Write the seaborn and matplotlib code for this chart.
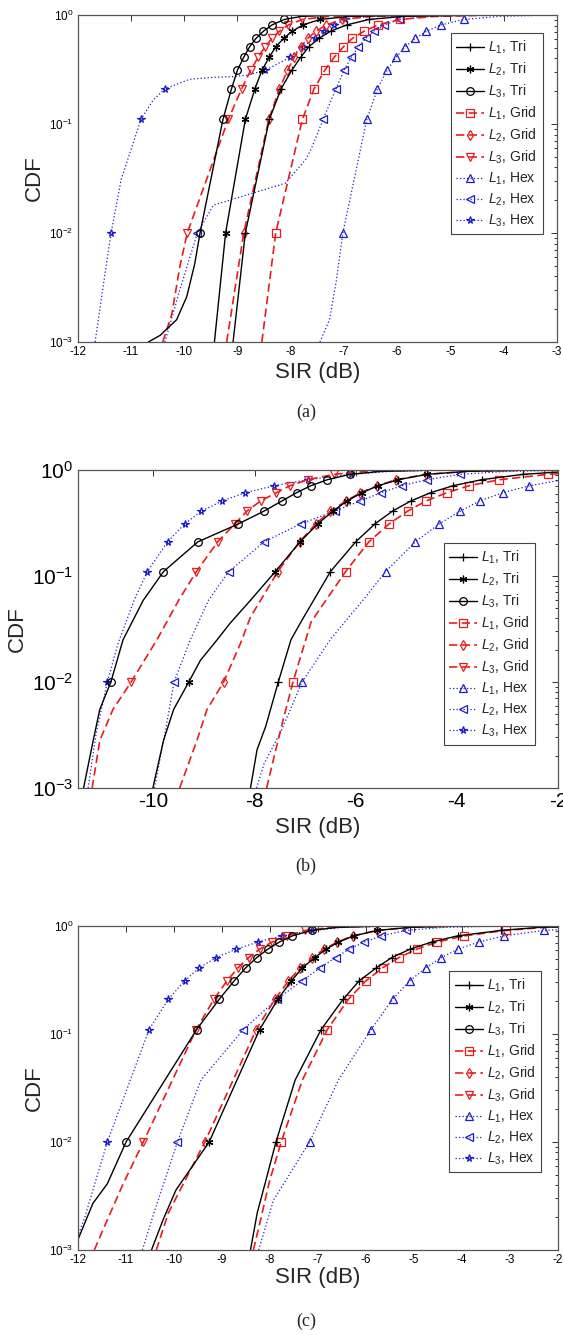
import numpy as np
import pandas as pd
import matplotlib
matplotlib.use("Agg")
import matplotlib.pyplot as plt
from matplotlib.lines import Line2D
from matplotlib.ticker import LogLocator, NullFormatter
import seaborn as sns

# ---------------------------------------------------------------- data
# CDF levels that carry a marker on every curve
MARK_CDF = [0.01, 0.11, 0.21, 0.31, 0.41, 0.51, 0.61, 0.71, 0.81, 0.91]
STD_CDF = [0.001] + MARK_CDF + [0.97, 0.995]

# (a)
a_tri1_cdf = STD_CDF
a_tri1_sir = [-9.08, -8.85, -8.40, -8.18, -7.98, -7.81, -7.66, -7.47, -7.25, -6.95, -6.53, -5.9, -4.6]
a_tri2_cdf = STD_CDF
a_tri2_sir = [-9.43, -9.22, -8.85, -8.67, -8.54, -8.40, -8.28, -8.13, -7.97, -7.77, -7.45, -6.9, -5.8]
a_tri3_cdf = [0.001, 0.00115, 0.0016, 0.0026, 0.0052] + MARK_CDF + [0.97, 0.995]
a_tri3_sir = [-10.67, -10.45, -10.14, -9.95, -9.80, -9.70, -9.27, -9.11, -9.00, -8.88, -8.77, -8.65, -8.51,
              -8.35, -8.12, -7.8, -7.2]
a_grid1_cdf = STD_CDF
a_grid1_sir = [-8.54, -8.28, -7.78, -7.56, -7.36, -7.18, -7.01, -6.84, -6.62, -6.36, -5.95, -5.3, -4.3]
a_grid2_cdf = STD_CDF
a_grid2_sir = [-9.20, -8.88, -8.41, -8.21, -8.06, -7.93, -7.81, -7.68, -7.52, -7.33, -7.03, -6.5, -5.5]
a_grid3_cdf = [0.001, 0.0018, 0.0049] + MARK_CDF + [0.97, 0.995]
a_grid3_sir = [-10.40, -10.23, -10.08, -9.94, -9.17, -8.92, -8.75, -8.61, -8.48, -8.35, -8.21, -8.04, -7.78,
               -7.3, -6.6]
a_hex1_cdf = [0.001, 0.0016, 0.0037] + MARK_CDF + [0.97, 0.995]
a_hex1_sir = [-7.45, -7.27, -7.14, -7.02, -6.57, -6.37, -6.19, -6.02, -5.85, -5.66, -5.45, -5.18, -4.75,
              -4.1, -3.3]
a_hex2_cdf = [0.001, 0.003, 0.01, 0.018, 0.0225, 0.0286, 0.047, 0.058] + MARK_CDF[1:] + [0.97, 0.995]
a_hex2_sir = [-10.36, -10.08, -9.75, -9.45, -8.80, -8.10, -7.72, -7.62, -7.39, -7.15, -7.00, -6.86, -6.73,
              -6.59, -6.44, -6.24, -5.96, -5.4, -4.5]
a_hex3_cdf = [0.001, 0.0032, 0.01, 0.031, 0.11, 0.166, 0.21, 0.257, 0.268, 0.272, 0.28] + MARK_CDF[3:] + [0.97, 0.995]
a_hex3_sir = [-11.67, -11.52, -11.37, -11.18, -10.81, -10.58, -10.36, -9.90, -9.46, -9.08, -8.83, -8.48,
              -8.01, -7.77, -7.55, -7.38, -7.19, -6.97, -6.5, -5.8]

# (b)
b_tri1_cdf = [0.001, 0.0023, 0.0038, 0.01, 0.025, 0.037] + MARK_CDF[1:] + [0.97, 0.995]
b_tri1_sir = [-8.08, -7.95, -7.78, -7.53, -7.28, -7.08, -6.50, -6.00, -5.62, -5.27, -4.91, -4.52, -4.08,
              -3.51, -2.69, -1.8, -0.5]
b_tri2_cdf = [0.001, 0.0028, 0.0055, 0.01, 0.016, 0.025, 0.036, 0.059] + MARK_CDF[1:] + [0.97, 0.995]
b_tri2_sir = [-10.01, -9.80, -9.60, -9.30, -9.07, -8.74, -8.48, -8.08, -7.59, -7.10, -6.75, -6.45, -6.17,
              -5.88, -5.56, -5.16, -4.59, -3.8, -2.7]
b_tri3_cdf = [0.001, 0.0028, 0.0055, 0.01, 0.025, 0.059] + MARK_CDF[1:] + [0.97, 0.995]
b_tri3_sir = [-11.38, -11.19, -11.06, -10.84, -10.60, -10.20, -9.80, -9.12, -8.32, -7.81, -7.46, -7.17,
              -6.89, -6.56, -6.11, -5.5, -4.6]
b_grid1_cdf = [0.001, 0.002, 0.0041, 0.01, 0.037] + MARK_CDF[1:] + [0.97, 0.995]
b_grid1_sir = [-7.76, -7.61, -7.45, -7.24, -6.88, -6.20, -5.74, -5.34, -4.97, -4.61, -4.20, -3.76, -3.16,
               -2.2, -1.3, -0.3]
b_grid2_cdf = [0.001, 0.0028, 0.0055, 0.01, 0.023, 0.041, 0.059] + MARK_CDF[1:] + [0.97, 0.995]
b_grid2_sir = [-9.48, -9.14, -8.94, -8.61, -8.28, -8.08, -7.88, -7.54, -7.11, -6.79, -6.50, -6.19, -5.91,
               -5.57, -5.20, -4.61, -3.8, -2.7]
b_grid3_cdf = [0.001, 0.0028, 0.0055, 0.01, 0.025, 0.059] + MARK_CDF[1:] + [0.97, 0.995]
b_grid3_sir = [-11.21, -11.06, -10.80, -10.44, -9.93, -9.50, -9.15, -8.73, -8.39, -8.15, -7.88, -7.57,
               -7.30, -6.94, -6.43, -5.8, -4.8]
b_hex1_cdf = [0.001, 0.0017, 0.0034, 0.01, 0.026, 0.062] + MARK_CDF[1:]
b_hex1_sir = [-7.96, -7.81, -7.48, -7.06, -6.48, -5.82, -5.41, -4.82, -4.35, -3.93, -3.55, -3.09, -2.57,
              -1.9, -0.9]
b_hex2_cdf = [0.001, 0.0033, 0.01, 0.025, 0.059] + MARK_CDF[1:] + [0.97, 0.995]
b_hex2_sir = [-9.98, -9.77, -9.59, -9.27, -8.91, -8.51, -7.81, -7.09, -6.41, -5.91, -5.50, -5.09, -4.59,
              -3.93, -3.0, -1.8]
b_hex3_cdf = [0.001, 0.0033, 0.01, 0.023, 0.059] + MARK_CDF[1:] + [0.97, 0.995]
b_hex3_sir = [-11.29, -11.13, -10.91, -10.70, -10.38, -10.12, -9.72, -9.38, -9.05, -8.64, -8.19, -7.61,
              -6.95, -6.09, -5.3, -4.2]

# (c)
c_tri1_cdf = [0.001, 0.0022, 0.0044, 0.01, 0.0375] + MARK_CDF[1:] + [0.97, 0.995]
c_tri1_sir = [-8.40, -8.26, -8.08, -7.87, -7.47, -6.93, -6.47, -6.14, -5.78, -5.46, -5.08, -4.63, -4.09,
              -3.19, -2.4, -1.3]
c_tri2_cdf = [0.001, 0.0019, 0.0036] + MARK_CDF + [0.97, 0.995]
c_tri2_sir = [-10.46, -10.22, -9.95, -9.26, -8.21, -7.83, -7.55, -7.32, -7.06, -6.83, -6.57, -6.25, -5.76,
              -5.1, -4.2]
c_tri3_cdf = [0.001, 0.0027, 0.0041] + MARK_CDF + [0.97, 0.995]
c_tri3_sir = [-12.08, -11.68, -11.38, -10.99, -9.52, -9.05, -8.74, -8.50, -8.27, -8.04, -7.80, -7.53, -7.13,
              -6.6, -5.8]
c_grid1_cdf = [0.001, 0.0019, 0.0044, 0.01, 0.0375] + MARK_CDF[1:] + [0.97, 0.995]
c_grid1_sir = [-8.34, -8.19, -8.00, -7.76, -7.32, -6.80, -6.36, -6.00, -5.65, -5.31, -4.94, -4.52, -3.95,
               -3.09, -2.3, -1.2]
c_grid2_cdf = [0.001, 0.0022] + MARK_CDF + [0.97, 0.995]
c_grid2_sir = [-10.36, -10.11, -9.35, -8.28, -7.89, -7.61, -7.36, -7.11, -6.87, -6.59, -6.27, -5.76, -5.1,
               -4.2]
c_grid3_cdf = [0.001, 0.0019, 0.0041] + MARK_CDF + [0.97, 0.995]
c_grid3_sir = [-11.65, -11.38, -11.05, -10.63, -9.53, -9.16, -8.89, -8.66, -8.44, -8.21, -7.95, -7.65,
               -7.26, -6.7, -5.9]
c_hex1_cdf = [0.001, 0.0029, 0.01, 0.0375] + MARK_CDF[1:] + [0.97, 0.995]
c_hex1_sir = [-8.23, -7.92, -7.17, -6.57, -5.89, -5.44, -5.09, -4.75, -4.43, -4.08, -3.65, -3.13, -2.29,
              -1.2, 0.0]
c_hex2_cdf = [0.001, 0.0022, 0.01, 0.0375] + MARK_CDF[1:] + [0.97, 0.995]
c_hex2_sir = [-10.65, -10.41, -9.92, -9.43, -8.55, -7.85, -7.33, -6.95, -6.63, -6.35, -6.03, -5.68, -5.16,
              -4.4, -3.4]
c_hex3_cdf = [0.001, 0.002] + MARK_CDF + [0.97, 0.995]
c_hex3_sir = [-12.10, -11.85, -11.38, -10.51, -10.11, -9.77, -9.47, -9.11, -8.70, -8.25, -7.74, -7.11,
              -6.5, -5.6]

# legend order and line styles
SERIES = ["tri1", "tri2", "tri3", "grid1", "grid2", "grid3", "hex1", "hex2", "hex3"]
LABELS = ["$L_1$, Tri", "$L_2$, Tri", "$L_3$, Tri",
          "$L_1$, Grid", "$L_2$, Grid", "$L_3$, Grid",
          "$L_1$, Hex", "$L_2$, Hex", "$L_3$, Hex"]

BLACK, RED, BLUE = "#000000", "#e81c1c", "#1c1ccc"
SOLID, DASHED, DOTTED = "-", (0, (5.0, 2.6)), (0, (1.0, 1.8))
STYLE = {
    "tri1": (BLACK, SOLID, "+", 1.0),
    "tri2": (BLACK, SOLID, (6, 2, 0), 1.0),
    "tri3": (BLACK, SOLID, "o", 1.0),
    "grid1": (RED, DASHED, "s", 1.2),
    "grid2": (RED, DASHED, "d", 1.2),
    "grid3": (RED, DASHED, "v", 1.2),
    "hex1": (BLUE, DOTTED, "^", 0.9),
    "hex2": (BLUE, DOTTED, "<", 0.9),
    "hex3": (BLUE, DOTTED, "*", 0.9),
}
MS = 5.5

# ---------------------------------------------------------------- style
sns.set_theme(style="white")
plt.rcParams.update({
    "font.family": ["Liberation Sans", "DejaVu Sans"],
    "mathtext.fontset": "custom",
    "mathtext.rm": "Liberation Sans",
    "mathtext.it": "Liberation Sans:italic",
    "mathtext.bf": "Liberation Sans:bold",
    "axes.unicode_minus": False,
})

W, H = 563, 1335
fig = plt.figure(figsize=(W / 100, H / 100), dpi=100)
fig.patch.set_facecolor("white")


def px_axes(left, top, right, bottom):
    return fig.add_axes([left / W, 1 - bottom / H, (right - left) / W, (bottom - top) / H])


def draw_curve(ax, key, cdf, sir):
    color, ls, mk, lw = STYLE[key]
    cdf = np.asarray(cdf, float)
    sir = np.asarray(sir, float)
    idx = [i for i, c in enumerate(cdf) if np.any(np.isclose(c, MARK_CDF))]
    df = pd.DataFrame({"SIR": sir, "CDF": cdf})
    sns.lineplot(data=df, x="SIR", y="CDF", ax=ax, sort=False, estimator=None,
                 color=color, linestyle=ls, linewidth=lw, marker=mk, markevery=idx,
                 markersize=MS, markerfacecolor="none", markeredgecolor=color,
                 markeredgewidth=0.9, legend=False)


def legend_handles():
    hs = []
    for key in SERIES:
        color, ls, mk, lw = STYLE[key]
        hs.append(Line2D([], [], color=color, linestyle=ls, linewidth=lw, marker=mk,
                         markersize=MS, markerfacecolor="none", markeredgecolor=color,
                         markeredgewidth=0.9))
    return hs


def style_axes(ax, xlim, xticks, tick_fs, label_fs, ylab_x, xlab_y, leg_anchor, leg_fs):
    ax.set_yscale("log")
    ax.set_ylim(1e-3, 1)
    ax.set_xlim(*xlim)
    ax.set_xticks(xticks)
    ax.set_xticklabels([f"{t:g}" for t in xticks])
    ax.yaxis.set_major_locator(LogLocator(base=10, numticks=10))
    ax.yaxis.set_minor_locator(LogLocator(base=10, subs=np.arange(2, 10), numticks=20))
    ax.yaxis.set_minor_formatter(NullFormatter())
    ax.tick_params(which="both", direction="in", top=True, right=True, colors="#333333",
                   labelcolor="black", width=0.7)
    ax.tick_params(which="major", length=4.5, labelsize=tick_fs, pad=3)
    ax.tick_params(which="minor", length=2.5)
    for sp in ax.spines.values():
        sp.set_color("#555555")
        sp.set_linewidth(0.9)
    ax.set_xlabel("SIR (dB)", fontsize=label_fs)
    ax.set_ylabel("CDF", fontsize=label_fs)
    ax.xaxis.set_label_coords(0.5, xlab_y)
    ax.xaxis.label.set_verticalalignment("center")
    ax.yaxis.set_label_coords(ylab_x, 0.5)
    ax.yaxis.label.set_verticalalignment("center")
    ax.grid(False)
    leg = ax.legend(legend_handles(), LABELS, loc="upper right", bbox_to_anchor=leg_anchor,
                    frameon=True, fancybox=False, framealpha=1, edgecolor="#444444",
                    fontsize=leg_fs, handlelength=2.0, handletextpad=0.3, labelspacing=0.33,
                    borderpad=0.4, borderaxespad=0)
    leg.get_frame().set_linewidth(0.8)


panels = [
    {
        "box": (77.5, 15, 557, 342), "xlim": (-12, -3), "xticks": list(range(-12, -2)),
        "tick_fs": 8.5, "label_fs": 16, "ylab_x": -0.089, "xlab_y": -0.092,
        "leg": (0.970, 0.945), "cap": "(a)", "cap_y": 412,
        "curves": {
            "tri1": (a_tri1_cdf, a_tri1_sir), "tri2": (a_tri2_cdf, a_tri2_sir),
            "tri3": (a_tri3_cdf, a_tri3_sir), "grid1": (a_grid1_cdf, a_grid1_sir),
            "grid2": (a_grid2_cdf, a_grid2_sir), "grid3": (a_grid3_cdf, a_grid3_sir),
            "hex1": (a_hex1_cdf, a_hex1_sir), "hex2": (a_hex2_cdf, a_hex2_sir),
            "hex3": (a_hex3_cdf, a_hex3_sir),
        },
    },
    {
        "box": (77.5, 470, 558, 788), "xlim": (-11.5, -2), "xticks": [-10, -8, -6, -4, -2],
        "tick_fs": 15, "label_fs": 16, "ylab_x": -0.126, "xlab_y": -0.123,
        "leg": (0.953, 0.770), "cap": "(b)", "cap_y": 866,
        "curves": {
            "tri1": (b_tri1_cdf, b_tri1_sir), "tri2": (b_tri2_cdf, b_tri2_sir),
            "tri3": (b_tri3_cdf, b_tri3_sir), "grid1": (b_grid1_cdf, b_grid1_sir),
            "grid2": (b_grid2_cdf, b_grid2_sir), "grid3": (b_grid3_cdf, b_grid3_sir),
            "hex1": (b_hex1_cdf, b_hex1_sir), "hex2": (b_hex2_cdf, b_hex2_sir),
            "hex3": (b_hex3_cdf, b_hex3_sir),
        },
    },
    {
        "box": (77.5, 926, 558, 1250), "xlim": (-12, -2), "xticks": list(range(-12, -1)),
        "tick_fs": 8.5, "label_fs": 16, "ylab_x": -0.089, "xlab_y": -0.086,
        "leg": (0.965, 0.861), "cap": "(c)", "cap_y": 1321,
        "curves": {
            "tri1": (c_tri1_cdf, c_tri1_sir), "tri2": (c_tri2_cdf, c_tri2_sir),
            "tri3": (c_tri3_cdf, c_tri3_sir), "grid1": (c_grid1_cdf, c_grid1_sir),
            "grid2": (c_grid2_cdf, c_grid2_sir), "grid3": (c_grid3_cdf, c_grid3_sir),
            "hex1": (c_hex1_cdf, c_hex1_sir), "hex2": (c_hex2_cdf, c_hex2_sir),
            "hex3": (c_hex3_cdf, c_hex3_sir),
        },
    },
]

for p in panels:
    ax = px_axes(*p["box"])
    ax.set_yscale("log")
    for key in ["hex3", "hex2", "hex1", "grid3", "grid2", "grid1", "tri3", "tri2", "tri1"]:
        cdf, sir = p["curves"][key]
        draw_curve(ax, key, cdf, sir)
    style_axes(ax, p["xlim"], p["xticks"], p["tick_fs"], p["label_fs"],
               p["ylab_x"], p["xlab_y"], p["leg"], 10)
    fig.text(306 / W, 1 - p["cap_y"] / H, p["cap"], ha="center", va="center",
             fontsize=13, family=["Liberation Serif", "DejaVu Serif"])

fig.savefig("out.png", dpi=100, facecolor="white")
